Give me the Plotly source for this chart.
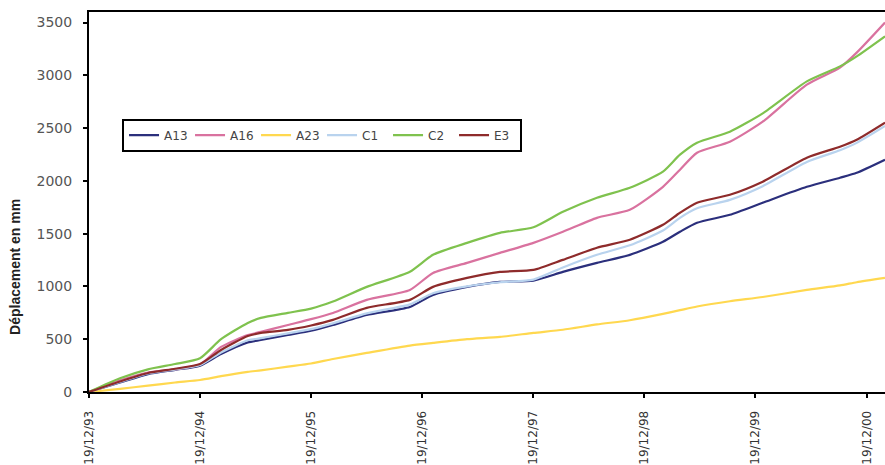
import plotly.graph_objects as go

# Survey dates (cumulative displacement readings)
dates = [
    "1993-12-19", "1994-03-31", "1994-07-01", "1994-09-28", "1994-12-19",
    "1995-02-26", "1995-05-25", "1995-07-07", "1995-10-04", "1995-12-19",
    "1996-02-29", "1996-06-19", "1996-11-08", "1997-01-23", "1997-05-15",
    "1997-08-31", "1997-12-19", "1998-03-26", "1998-07-16", "1998-11-01",
    "1999-02-18", "1999-04-15", "1999-06-10", "1999-09-26", "2000-01-12",
    "2000-06-05", "2000-09-22", "2000-11-16", "2001-02-17",
]

# Cumulative displacement in mm for each station
a13 = [0, 90, 170, 210, 250, 360, 470, 493, 540, 580, 635, 730, 806, 920, 996,
       1043, 1055, 1138, 1223, 1299, 1423, 1518, 1603, 1679, 1793, 1944, 2030, 2077, 2201]
a16 = [0, 110, 185, 215, 260, 427, 540, 569, 635, 690, 749, 873, 967, 1128, 1223,
       1318, 1413, 1518, 1650, 1726, 1944, 2106, 2267, 2371, 2561, 2912, 3073, 3215, 3500]
a23 = [0, 30, 60, 90, 114, 150, 190, 205, 240, 270, 313, 370, 440, 465, 500,
       522, 560, 590, 640, 680, 740, 775, 810, 860, 900, 967, 1010, 1040, 1081]
c1 = [0, 95, 175, 215, 255, 375, 490, 510, 555, 595, 650, 745, 830, 935, 1000,
      1040, 1065, 1180, 1300, 1390, 1530, 1650, 1740, 1820, 1950, 2180, 2290, 2360, 2520]
c2 = [0, 130, 215, 265, 320, 500, 654, 702, 750, 790, 857, 996, 1140, 1300, 1413,
      1508, 1560, 1707, 1840, 1935, 2087, 2248, 2362, 2466, 2640, 2943, 3085, 3180, 3370]
e3 = [0, 100, 180, 220, 265, 398, 530, 560, 588, 630, 683, 797, 873, 996, 1081,
      1138, 1157, 1252, 1366, 1442, 1584, 1698, 1793, 1868, 1992, 2220, 2324, 2390, 2552]

series = [
    ("A13", a13, "#2b2f7c"),
    ("A16", a16, "#d9729f"),
    ("A23", a23, "#ffd84f"),
    ("C1", c1, "#b9d3ee"),
    ("C2", c2, "#7fc24e"),
    ("E3", e3, "#8e2b2b"),
]

# Axis ticks: one per year on 19 December
tick_dates = ["1993-12-19", "1994-12-19", "1995-12-19", "1996-12-19",
              "1997-12-19", "1998-12-19", "1999-12-19", "2000-12-19"]
tick_labels = ["19/12/93", "19/12/94", "19/12/95", "19/12/96",
               "19/12/97", "19/12/98", "19/12/99", "19/12/00"]
y_ticks = [0, 500, 1000, 1500, 2000, 2500, 3000, 3500]

fig = go.Figure()
for name, vals, color in series:
    fig.add_trace(go.Scatter(
        x=dates, y=vals, name=name, mode="lines",
        line=dict(color=color, width=2.2, shape="spline", smoothing=0.6),
    ))

font_family = "DejaVu Sans, Arial, sans-serif"

fig.update_layout(
    width=885, height=465,
    margin=dict(l=89, r=0, t=12, b=73),
    paper_bgcolor="white", plot_bgcolor="white",
    font=dict(family=font_family, size=11, color="#333333"),
    showlegend=True,
    legend=dict(
        orientation="h",
        x=0.0415, y=0.676, xanchor="left", yanchor="middle",
        bgcolor="white", bordercolor="black", borderwidth=2,
        font=dict(size=12, color="#444444"),
        itemwidth=30, entrywidth=21, tracegroupgap=0,
    ),
    xaxis=dict(
        type="date",
        range=["1993-12-19", "2001-02-17"],
        tickvals=tick_dates, ticktext=tick_labels,
        tickangle=-90,
        ticks="outside", ticklen=4, tickcolor="black", tickwidth=1.5,
        ticklabelstandoff=8,
        showline=True, linecolor="black", linewidth=2, mirror=True,
        showgrid=False, zeroline=False,
        tickfont=dict(size=12, color="#333333"),
    ),
    yaxis=dict(
        range=[0, 3600],
        tickvals=y_ticks,
        ticks="outside", ticklen=4, tickcolor="black", tickwidth=1.5,
        ticklabelstandoff=8,
        showline=True, linecolor="black", linewidth=2,
        showgrid=False, zeroline=False,
        tickfont=dict(size=14, color="#555555"),
    ),
    annotations=[dict(
        text="<b>Déplacement en mm</b>",
        xref="paper", yref="paper", x=-0.093, y=0.329,
        xanchor="center", yanchor="middle", textangle=-90, showarrow=False,
        font=dict(family="Liberation Sans Narrow, Liberation Sans, Arial, sans-serif",
                  size=14, color="#222222"),
    )],
)

fig.write_html("out.html")
